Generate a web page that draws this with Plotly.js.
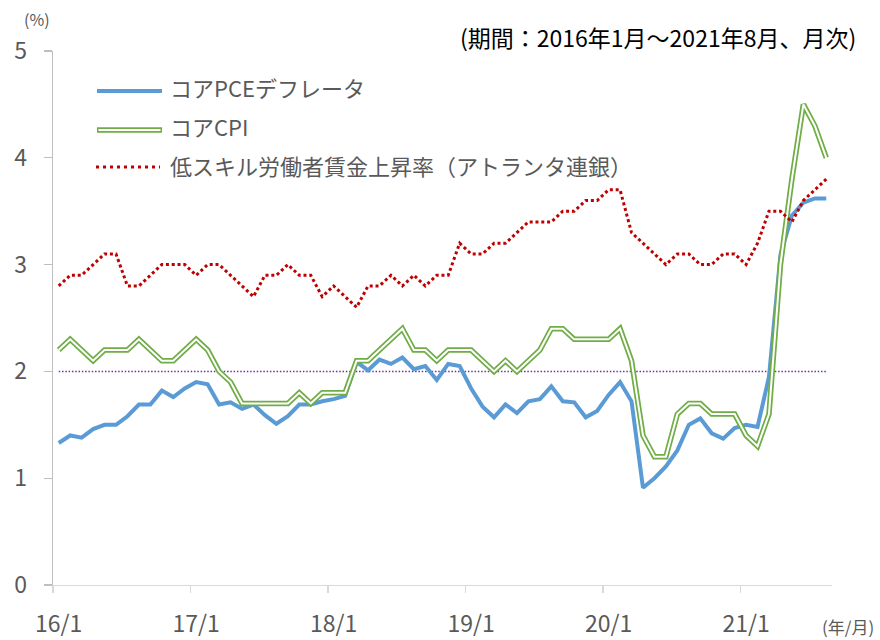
<!DOCTYPE html>
<html>
<head>
<meta charset="utf-8">
<script src="https://cdn.plot.ly/plotly-3.0.1.min.js"></script>
<style>html,body{margin:0;padding:0;background:#fff;}</style>
</head>
<body>
<div id="chart" style="width:880px;height:640px;"></div>
<script>
// ---- data ----
const months = [
  '16/1','16/2','16/3','16/4','16/5','16/6','16/7','16/8','16/9','16/10','16/11','16/12',
  '17/1','17/2','17/3','17/4','17/5','17/6','17/7','17/8','17/9','17/10','17/11','17/12',
  '18/1','18/2','18/3','18/4','18/5','18/6','18/7','18/8','18/9','18/10','18/11','18/12',
  '19/1','19/2','19/3','19/4','19/5','19/6','19/7','19/8','19/9','19/10','19/11','19/12',
  '20/1','20/2','20/3','20/4','20/5','20/6','20/7','20/8','20/9','20/10','20/11','20/12',
  '21/1','21/2','21/3','21/4','21/5','21/6','21/7','21/8'
];
const corePCE = [
  1.33,1.40,1.38,1.46,1.50,1.50,1.58,1.69,1.69,1.82,1.76,1.84,
  1.90,1.88,1.69,1.71,1.65,1.69,1.59,1.51,1.58,1.69,1.69,1.72,
  1.74,1.77,2.09,2.01,2.11,2.07,2.13,2.02,2.05,1.92,2.07,2.05,
  1.84,1.67,1.57,1.69,1.61,1.72,1.74,1.86,1.72,1.71,1.57,1.63,
  1.78,1.90,1.72,0.91,1.00,1.11,1.26,1.50,1.56,1.42,1.37,1.47,
  1.50,1.48,1.95,3.09,3.46,3.58,3.62,3.62
];
const coreCPI = [
  2.2,2.3,2.2,2.1,2.2,2.2,2.2,2.3,2.2,2.1,2.1,2.2,
  2.3,2.2,2.0,1.9,1.7,1.7,1.7,1.7,1.7,1.8,1.7,1.8,
  1.8,1.8,2.1,2.1,2.2,2.3,2.4,2.2,2.2,2.1,2.2,2.2,
  2.2,2.1,2.0,2.1,2.0,2.1,2.2,2.4,2.4,2.3,2.3,2.3,
  2.3,2.4,2.1,1.4,1.2,1.2,1.6,1.7,1.7,1.6,1.6,1.6,
  1.4,1.3,1.6,3.0,3.8,4.5,4.3,4.0
];
const lowSkillWage = [
  2.8,2.9,2.9,3.0,3.1,3.1,2.8,2.8,2.9,3.0,3.0,3.0,
  2.9,3.0,3.0,2.9,2.8,2.7,2.9,2.9,3.0,2.9,2.9,2.7,
  2.8,2.7,2.6,2.8,2.8,2.9,2.8,2.9,2.8,2.9,2.9,3.2,
  3.1,3.1,3.2,3.2,3.3,3.4,3.4,3.4,3.5,3.5,3.6,3.6,
  3.7,3.7,3.3,3.2,3.1,3.0,3.1,3.1,3.0,3.0,3.1,3.1,
  3.0,3.2,3.5,3.5,3.4,3.6,3.7,3.8
];
const targetRate = 2;
const seriesNames = ['コアPCEデフレータ', 'コアCPI', '低スキル労働者賃金上昇率（アトランタ連銀）'];
const yTicks = [0, 1, 2, 3, 4, 5];

// ---- styling ----
const FONT = '"Noto Sans CJK JP", "Noto Sans", sans-serif';
const TXT = '#595959';
const BLUE = '#5b9bd5', GREEN = '#70ad47', RED = '#c00000', PURPLE = '#7030a0';

const traces = [
  {x: months, y: corePCE, name: seriesNames[0], type: 'scatter', mode: 'lines',
   line: {color: BLUE, width: 4}, showlegend: false},
  {x: months, y: coreCPI, name: seriesNames[1], type: 'scatter', mode: 'lines',
   line: {color: GREEN, width: 5.5}, showlegend: false},
  {x: months, y: coreCPI, name: seriesNames[1] + ' (inner)', type: 'scatter', mode: 'lines',
   line: {color: '#ffffff', width: 2}, showlegend: false, hoverinfo: 'skip'},
  {x: months, y: lowSkillWage, name: seriesNames[2], type: 'scatter', mode: 'lines',
   line: {color: RED, width: 3, dash: '3px,2.8px'}, showlegend: false}
];

// pixel -> paper helpers for the layout decorations
const L = 53, R = 48, T = 51, B = 55, W = 880, H = 640;
const PW = W - L - R, PH = H - T - B;
const px = v => (v - L) / PW;
const py = v => (H - B - v) / PH;

const legendRows = [
  {y: 91, ty: 87},
  {y: 130, ty: 126},
  {y: 167, ty: 165}
];

const shapes = [
  {type: 'line', xref: 'x', yref: 'y', x0: months[0], x1: months[months.length - 1],
   y0: targetRate, y1: targetRate, line: {color: PURPLE, width: 1.5, dash: '1.5px,1.8px'}, layer: 'below'},
  // legend samples
  {type: 'line', xref: 'paper', yref: 'paper', x0: px(97), x1: px(162), y0: py(legendRows[0].y), y1: py(legendRows[0].y),
   line: {color: BLUE, width: 4}},
  {type: 'line', xref: 'paper', yref: 'paper', x0: px(97), x1: px(162), y0: py(legendRows[1].y), y1: py(legendRows[1].y),
   line: {color: GREEN, width: 5.5}},
  {type: 'line', xref: 'paper', yref: 'paper', x0: px(98.5), x1: px(160.5), y0: py(legendRows[1].y), y1: py(legendRows[1].y),
   line: {color: '#ffffff', width: 2}},
  {type: 'line', xref: 'paper', yref: 'paper', x0: px(96), x1: px(160), y0: py(legendRows[2].y), y1: py(legendRows[2].y),
   line: {color: RED, width: 3, dash: '3px,4px'}}
];

const annotations = [
  {text: '(%)', xref: 'paper', yref: 'paper', x: px(37), y: py(19), xanchor: 'center', yanchor: 'middle',
   showarrow: false, font: {size: 16, color: TXT, family: FONT}},
  {text: '(期間：2016年1月～2021年8月、月次)', xref: 'paper', yref: 'paper', x: px(858), y: py(37),
   xanchor: 'right', yanchor: 'middle', showarrow: false, font: {size: 23, color: '#000000', family: FONT}},
  {text: '(年/月)', xref: 'paper', yref: 'paper', x: px(848), y: py(626), xanchor: 'center', yanchor: 'middle',
   showarrow: false, font: {size: 17, color: TXT, family: FONT}}
];
seriesNames.forEach((n, i) => {
  annotations.push({text: n, xref: 'paper', yref: 'paper', x: px(168), y: py(legendRows[i].ty),
    xanchor: 'left', yanchor: 'middle', showarrow: false, font: {size: 22, color: TXT, family: FONT}});
});

const layout = {
  width: W, height: H,
  margin: {l: L, r: R, t: T, b: B, pad: 0},
  paper_bgcolor: '#ffffff', plot_bgcolor: '#ffffff',
  showlegend: false,
  font: {family: FONT, color: TXT, size: 22},
  xaxis: {
    type: 'category', range: [-0.5, months.length - 0.5],
    tickmode: 'linear', tick0: 0, dtick: 12, tickson: 'boundaries', tickangle: 0,
    ticks: 'outside', ticklen: 7, tickwidth: 1.3, tickcolor: '#d9d9d9',
    showline: true, linecolor: '#d9d9d9', linewidth: 1.3,
    showgrid: false, zeroline: false,
    tickfont: {size: 23, color: TXT, family: FONT}, ticklabelstandoff: 18
  },
  yaxis: {
    range: [0, 5], tickmode: 'array', tickvals: yTicks, ticktext: yTicks.map(String),
    ticks: 'outside', ticklen: 8, tickwidth: 1.3, tickcolor: '#bfbfbf',
    showline: true, linecolor: '#bfbfbf', linewidth: 1.3,
    showgrid: false, zeroline: false,
    tickfont: {size: 23, color: TXT, family: FONT}, ticklabelstandoff: 12
  },
  shapes: shapes,
  annotations: annotations
};

Plotly.newPlot('chart', traces, layout, {staticPlot: true, displayModeBar: false});
</script>
</body>
</html>
